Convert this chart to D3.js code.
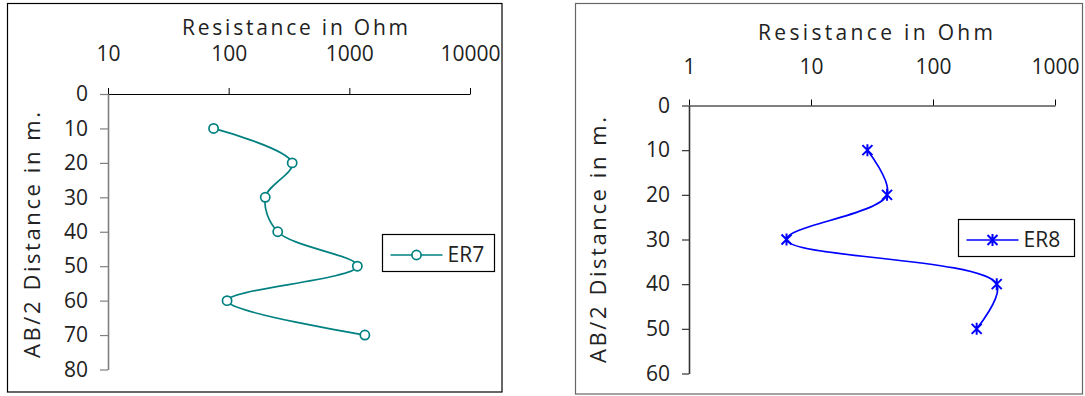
<!DOCTYPE html>
<html>
<head>
<meta charset="utf-8">
<script src="https://cdnjs.cloudflare.com/ajax/libs/d3/7.8.5/d3.min.js"></script>
<style>
	body { margin: 0; background: #fff; }
	svg text { font-family: "Open Sans", "Noto Sans", sans-serif; fill: #222; }
</style>
</head>
<body>
<div id="chart"></div>
<script>
// values
var depthER7 = [10, 20, 30, 40, 50, 60, 70];
var resER7 = [75, 336, 201, 255, 1165, 97, 1345];
var depthER8 = [10, 20, 30, 40, 50];
var resER8 = [29, 42, 6.3, 333, 228];

var xTicksER7 = [10, 100, 1000, 10000];
var yTicksER7 = [0, 10, 20, 30, 40, 50, 60, 70, 80];
var xTicksER8 = [1, 10, 100, 1000];
var yTicksER8 = [0, 10, 20, 30, 40, 50, 60];

var xTitle = "Resistance in Ohm";
var yTitle = "AB/2 Distance in m.";

var svg = d3.select("#chart").append("svg")
	.attr("width", 1085)
	.attr("height", 396);

function drawPanel(p) {
	// one framed chart: log x on top, depth going down
	var g = svg.append("g");

	g.append("rect")
		.attr("x", p.frame[0]).attr("y", p.frame[1])
		.attr("width", p.frame[2]).attr("height", p.frame[3])
		.attr("fill", "none")
		.attr("stroke", p.frameColor)
		.attr("stroke-width", 1.2);

	var x = d3.scaleLog().domain(p.xDomain).range([p.left, p.right]);
	var y = d3.scaleLinear().domain(p.yDomain).range([p.top, p.bottom]);

	var xAxis = g.append("g")
		.attr("transform", "translate(0," + p.top + ")")
		.call(d3.axisTop(x)
			.tickValues(p.xTicks)
			.tickFormat(d3.format("d"))
			.tickSize(6)
			.tickSizeOuter(0)
			.tickPadding(p.xPad));
	xAxis.select(".domain").attr("stroke", "#000").attr("stroke-width", 1.2);
	xAxis.selectAll(".tick line").attr("stroke", "#000");
	xAxis.selectAll(".tick text")
		.style("font-size", "21px")
		.attr("fill", "#222");

	var yAxis = g.append("g")
		.attr("transform", "translate(" + p.left + ",0)")
		.call(d3.axisLeft(y)
			.tickValues(p.yTicks)
			.tickSize(p.yTick)
			.tickSizeOuter(0)
			.tickPadding(p.yPad));
	yAxis.select(".domain").attr("stroke", p.yAxisColor).attr("stroke-width", 1.6);
	yAxis.selectAll(".tick line").attr("stroke", p.yAxisColor).attr("stroke-width", 1.2);
	yAxis.selectAll(".tick text")
		.style("font-size", "21px")
		.attr("fill", "#222");

	// titles
	g.append("text")
		.attr("x", p.titleX[0]).attr("y", p.titleY)
		.attr("textLength", p.titleX[1] - p.titleX[0])
		.attr("lengthAdjust", "spacing")
		.style("font-size", "21px")
		.text(xTitle);

	g.append("text")
		.attr("transform", "translate(" + p.yTitleX + "," + p.yTitleY[0] + ") rotate(-90)")
		.attr("textLength", p.yTitleY[0] - p.yTitleY[1])
		.attr("lengthAdjust", "spacing")
		.style("font-size", "22px")
		.text(yTitle);

	// smoothed line like the spreadsheet chart
	var pts = p.res.map(function(r, i) { return [x(r), y(p.depth[i])]; });
	var line = d3.line().curve(d3.curveCatmullRom.alpha(0.5));

	g.append("path")
		.attr("d", line(pts))
		.attr("fill", "none")
		.attr("stroke", p.color)
		.attr("stroke-width", 1.7);

	pts.forEach(function(pt) { p.marker(g, pt[0], pt[1]); });

	// legend
	var lg = p.legend;
	g.append("rect")
		.attr("x", lg.x).attr("y", lg.y)
		.attr("width", lg.w).attr("height", lg.h)
		.attr("fill", "#fff")
		.attr("stroke", "#000")
		.attr("stroke-width", 1.2);
	g.append("line")
		.attr("x1", lg.x + 8).attr("x2", lg.x + 60)
		.attr("y1", lg.ly).attr("y2", lg.ly)
		.attr("stroke", p.color)
		.attr("stroke-width", 1.7);
	p.marker(g, lg.x + 34, lg.ly);
	g.append("text")
		.attr("x", lg.x + 65).attr("y", lg.ty)
		.style("font-size", "21px")
		.text(p.name);
}

function circleMarker(g, cx, cy) {
	g.append("circle")
		.attr("cx", cx).attr("cy", cy).attr("r", 4.6)
		.attr("fill", "#fff")
		.attr("stroke", "#008080")
		.attr("stroke-width", 1.7);
}

function starMarker(g, cx, cy) {
	var s = 5;
	var d = "M" + (cx - s) + "," + (cy - s) + "L" + (cx + s) + "," + (cy + s) +
		"M" + (cx - s) + "," + (cy + s) + "L" + (cx + s) + "," + (cy - s) +
		"M" + cx + "," + (cy - s - 1) + "L" + cx + "," + (cy + s + 1);
	g.append("path")
		.attr("d", d)
		.attr("stroke", "#0000ff")
		.attr("stroke-width", 2)
		.attr("fill", "none");
}

drawPanel({
	name: "ER7", depth: depthER7, res: resER7, color: "#008080", marker: circleMarker,
	frame: [7.5, 3.5, 494.5, 388.5], frameColor: "#000",
	left: 108, right: 470, top: 94, bottom: 369.5,
	xDomain: [10, 10000], yDomain: [0, 80],
	xTicks: xTicksER7, yTicks: yTicksER7,
	xPad: 27, yTick: 8, yPad: 12, yAxisColor: "#808080",
	titleX: [182, 408], titleY: 35,
	yTitleX: 40, yTitleY: [358, 112],
	legend: { x: 382.5, y: 234.5, w: 112, h: 37, ly: 255, ty: 262 }
});

drawPanel({
	name: "ER8", depth: depthER8, res: resER8, color: "#0000ff", marker: starMarker,
	frame: [575.5, 3.5, 507, 390.5], frameColor: "#666",
	left: 689, right: 1055, top: 105.5, bottom: 373.5,
	xDomain: [1, 1000], yDomain: [0, 60],
	xTicks: xTicksER8, yTicks: yTicksER8,
	xPad: 26, yTick: 7, yPad: 12, yAxisColor: "#333",
	titleX: [758, 993], titleY: 40,
	yTitleX: 606, yTitleY: [363, 117],
	legend: { x: 958.5, y: 219.5, w: 116, h: 37, ly: 240, ty: 247 }
});
</script>
</body>
</html>
